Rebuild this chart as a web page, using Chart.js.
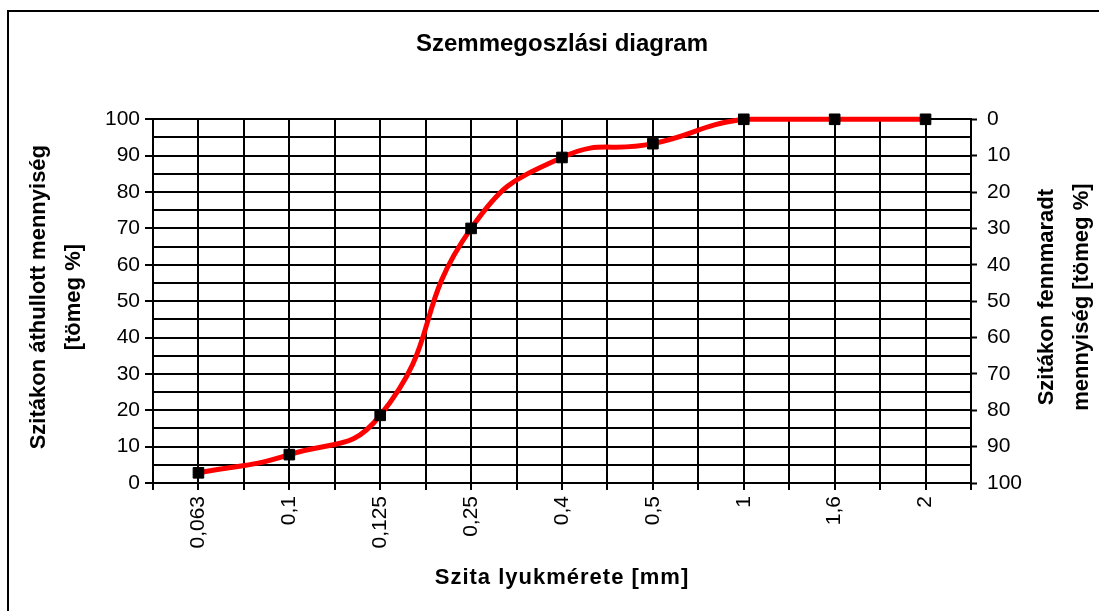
<!DOCTYPE html>
<html>
<head>
<meta charset="utf-8">
<title>Szemmegoszlási diagram</title>
<script src="https://cdn.jsdelivr.net/npm/chart.js@4.4.1/dist/chart.umd.min.js"></script>
<style>
  html, body { margin: 0; padding: 0; background: #fff; }
  canvas { display: block; }
</style>
</head>
<body>
<canvas id="gradingChart" width="1099" height="611"></canvas>
<script>
// sieve sizes (mm) and cumulative passing (mass %)
const sieveSizes = ['0,063', '0,1', '0,125', '0,25', '0,4', '0,5', '1', '1,6', '2'];
const passing = [2.8, 7.8, 18.6, 70, 89.5, 93.3, 100, 100, 100];

const chartTitle = 'Szemmegoszlási diagram';
const xTitle = 'Szita lyukmérete [mm]';
const leftTitle = ['Szitákon áthullott mennyiség', '[tömeg %]'];
const rightTitle = ['Szitákon fennmaradt', 'mennyiség [tömeg %]'];

const FONT = '"Liberation Sans", Arial, sans-serif';

function drawVertical(ctx, lines, x, y, gap) {
  ctx.save();
  ctx.translate(x, y);
  ctx.rotate(-Math.PI / 2);
  lines.forEach((t, i) => ctx.fillText(t, 0, i * gap));
  ctx.restore();
}

// white page, frame and the axis titles
const frameAndTitles = {
  id: 'frameAndTitles',
  beforeDraw(chart) {
    const { ctx } = chart;
    ctx.save();
    ctx.fillStyle = '#fff';
    ctx.fillRect(0, 0, chart.width, chart.height);
    ctx.strokeStyle = '#000';
    ctx.lineWidth = 2;
    ctx.beginPath();
    ctx.moveTo(8, chart.height + 5);
    ctx.lineTo(8, 11);
    ctx.lineTo(chart.width + 5, 11);
    ctx.stroke();
    ctx.restore();
  },
  afterDraw(chart) {
    const { ctx, chartArea: a } = chart;
    const midY = (a.top + a.bottom) / 2 - 4;
    ctx.save();
    ctx.fillStyle = '#000';
    ctx.font = 'bold 22px ' + FONT;
    ctx.textAlign = 'center';
    ctx.textBaseline = 'middle';
    drawVertical(ctx, leftTitle, 39, midY, 35);
    drawVertical(ctx, rightTitle, 1047, midY, 35);
    ctx.letterSpacing = '1px';
    ctx.fillText(xTitle, (a.left + a.right) / 2, 578);
    ctx.restore();
  }
};

const tickFont = { family: FONT, size: 21 };

new Chart(document.getElementById('gradingChart'), {
  type: 'line',
  data: {
    datasets: [{
      data: passing.map((v, i) => ({ x: i, y: v })),
      borderColor: '#ff0000',
      borderWidth: 5,
      tension: 0.5,
      pointStyle: 'rect',
      pointRadius: 7.5,
      pointBackgroundColor: '#000',
      pointBorderColor: '#000',
      pointBorderWidth: 1,
      clip: false
    }]
  },
  options: {
    responsive: false,
    animation: false,
    layout: { padding: 0 },
    plugins: {
      legend: { display: false },
      tooltip: { enabled: false },
      title: {
        display: true,
        text: chartTitle,
        fullSize: false,
        color: '#000',
        font: { family: FONT, size: 24, weight: 'bold' },
        padding: { top: 30, bottom: 60.5 }
      }
    },
    scales: {
      x: {
        type: 'linear',
        min: -0.5, max: 8.5,
        afterFit: s => { s.height = 128; },
        border: { color: '#000', width: 2 },
        grid: { color: '#000', lineWidth: 2, tickLength: 7, tickColor: '#000', tickWidth: 2 },
        ticks: {
          stepSize: 0.5,
          autoSkip: false,
          minRotation: 90, maxRotation: 90,
          padding: 6,
          color: '#000',
          font: tickFont,
          callback: v => Number.isInteger(v) ? sieveSizes[v] : ''
        }
      },
      y: {
        position: 'left',
        min: 0, max: 100,
        afterFit: s => { s.width = 153; },
        border: { color: '#000', width: 2 },
        grid: {
          color: '#000', lineWidth: 2, tickLength: 8, tickWidth: 2,
          tickColor: c => c.tick && c.tick.value % 10 === 0 ? '#000' : 'rgba(0,0,0,0)'
        },
        ticks: {
          stepSize: 5,
          autoSkip: false,
          padding: 5,
          color: '#000',
          font: tickFont,
          callback: v => v % 10 === 0 ? v : ''
        }
      },
      y2: {
        position: 'right',
        min: 0, max: 100,
        reverse: true,
        afterFit: s => { s.width = 128; },
        border: { color: '#000', width: 2 },
        grid: { drawOnChartArea: false, tickLength: 6, tickColor: '#000', tickWidth: 2 },
        ticks: { stepSize: 10, padding: 10, color: '#000', font: tickFont }
      }
    }
  },
  plugins: [frameAndTitles]
});
</script>
</body>
</html>
